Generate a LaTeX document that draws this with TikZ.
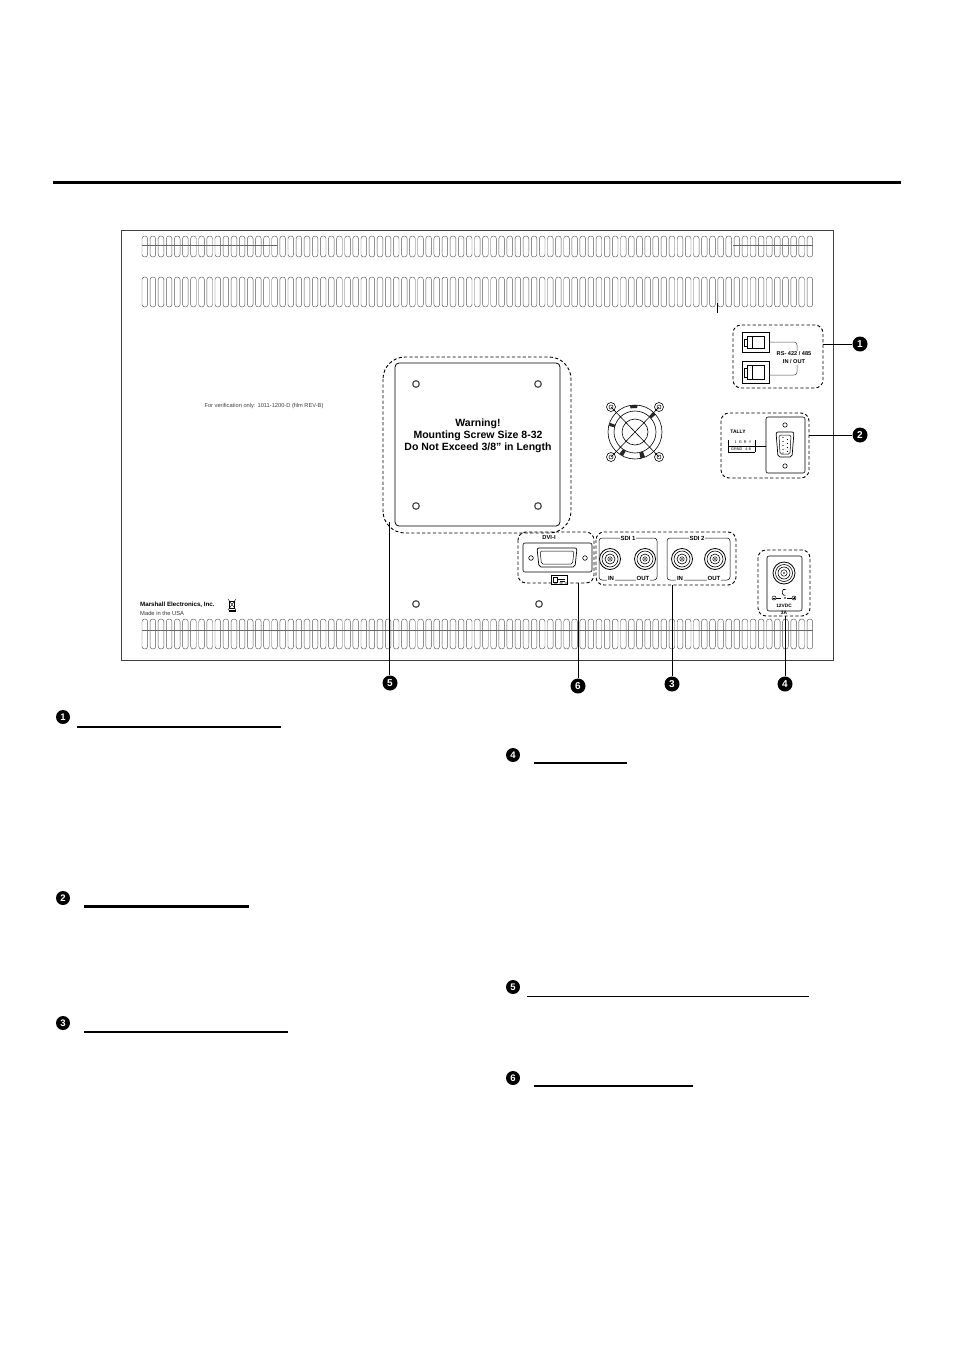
\documentclass[tikz,border=0pt]{standalone}
\usepackage{fontspec}
\setmainfont{Liberation Sans}
\begin{document}
\begin{tikzpicture}[x=1pt,y=-1pt,
  slot/.style={draw=black!65, line width=0.45pt, rounded corners=2.6pt},
  dashbox/.style={draw, line width=0.9pt, dash pattern=on 3.2pt off 2.2pt, rounded corners=8pt},
  numdot/.style={circle, fill=black, text=white, inner sep=0pt, minimum size=15pt, font=\bfseries\fontsize{10}{10}\selectfont},
  headdot/.style={circle, fill=black, text=white, inner sep=0pt, minimum size=14pt, font=\bfseries\fontsize{9.5}{10}\selectfont},
  leader/.style={line width=0.9pt},
  plate/.style={draw, line width=0.6pt, rounded corners=2pt},
  lbl/.style={font=\bfseries\fontsize{6}{6}\selectfont, inner sep=0.8pt, fill=white},
  hole/.style={draw=black!70, line width=1.2pt}]
\useasboundingbox (0,0) rectangle (954,1351);
\fill[white] (0,0) rectangle (954,1351);

% top rule
\draw[line width=3.5pt] (53,182.5) -- (901,182.5);

% monitor outline
\draw[line width=0.5pt, black!75] (121,230) rectangle (833,660);

% vent slots
\foreach \i in {0,...,82} {
  \pgfmathsetmacro\xx{142+8.11*\i}
  \draw[slot] (\xx,236) rectangle ++(5.6,21);
  \draw[slot] (\xx,277) rectangle ++(5.6,30);
  \draw[slot] (\xx,619) rectangle ++(5.6,30);
}
\draw[black!60, line width=0.4pt] (142,245) -- (277,245);
\draw[black!60, line width=0.4pt] (733,245) -- (813,245);
\draw[black!60, line width=0.4pt] (142,630) -- (813,630);
\draw[line width=0.6pt] (717,303) -- (717,313);

% verification text
\node[font=\fontsize{5.7}{6}\selectfont, text=black!75] (verif) at (264,406) {For verification only: 1011-1200-D (film REV-B)};

% maker
\node[anchor=west, font=\bfseries\fontsize{6.2}{7}\selectfont, inner sep=0pt] (maker) at (140,605) {Marshall Electronics, Inc.};
\node[anchor=west, font=\fontsize{5.8}{6}\selectfont, inner sep=0pt, text=black!80] (usa) at (140,613) {Made in the USA};
\draw[line width=0.5pt] (229.5,601) rectangle (234.5,608);
\draw[line width=0.4pt] (228,599) -- (236,610) (236,599) -- (228,610);
\draw[line width=1.2pt] (228.5,611) -- (235.5,611);

% mounting plate
\draw[line width=0.8pt, rounded corners=4pt] (395,363) rectangle (560,526);
\draw[dashbox, rounded corners=22pt] (383,357) rectangle (571,533);
\foreach \p in {(416,384),(538,384),(416,506),(538,506),(416,604),(539,604)}
  \draw[hole] \p circle (3.3);
\node[align=center, font=\bfseries\fontsize{10.5}{12.2}\selectfont] (warn) at (478,436)
  {Warning!\\Mounting Screw Size 8-32\\Do Not Exceed 3/8\char"22{} in Length};

% fan
\begin{scope}[shift={(635,432)}]
  \draw[line width=0.6pt] (0,0) circle (27);
  \draw[line width=0.6pt] (0,0) circle (21);
  \draw[line width=0.6pt] (0,0) circle (13);
  \draw[line width=0.6pt] (-24,-25) -- (24,25) (24,-25) -- (-24,25);
  \foreach \sx in {-1,1} \foreach \sy in {-1,1} {
    \draw[line width=0.6pt] (24*\sx,25*\sy) circle (4.5);
    \draw[line width=0.5pt] (24*\sx,25*\sy) circle (2);
  }
  \fill[black!85] (-26,-6) arc (193:200:27) -- (200:21) arc (200:193:21) -- cycle;
  \fill[black!85] (-5,-26.5) arc (259:275:27) -- (275:24) arc (275:259:24) -- cycle;
  \fill[black!85] (18,-20) arc (312:320:27) -- (320:21) arc (320:312:21) -- cycle;
  \fill[black!85] (-12,24) arc (116:125:27) -- (125:21) arc (125:116:21) -- cycle;
  \fill[black!85] (10,25) arc (68:78:27) -- (78:21) arc (78:68:21) -- cycle;
\end{scope}

% RS-422 box
\draw[dashbox] (733,325) rectangle (823,388);
\foreach \yy/\hh in {332/20,361/22} {
  \draw[line width=0.6pt] (742,\yy) rectangle ++(27,\hh);
  \draw[line width=0.5pt] (747,\yy+4) rectangle ++(17,\hh-8);
  \draw[line width=0.5pt] (744,\yy+7) rectangle ++(3,\hh-13);
  \draw[line width=0.4pt] (752,\yy+4) -- (752,\yy+\hh-4);
}
\draw[line width=0.5pt, black!70, rounded corners=3pt] (769,342) -- (797,342) -- (797,375) -- (769,375);
\node[lbl, align=center, font=\bfseries\fontsize{5.6}{8}\selectfont] (rs) at (794,358) {RS- 422 / 485\\IN / OUT};
\coordinate (c1) at (823,344);
\node[numdot] (n1) at (860,344) {1};
\draw[leader] (c1) -- (n1);

% Tally box
\draw[dashbox] (721,413) rectangle (809,478);
\draw[plate] (766,417) rectangle (805,473);
\draw[line width=0.6pt] (785,425) circle (2.2);
\draw[line width=0.6pt] (785,466) circle (2.2);
\draw[line width=0.7pt, rounded corners=2pt] (776,432) -- (794,432) -- (792,457) -- (778,457) -- cycle;
\draw[line width=0.5pt, rounded corners=1.5pt] (779,435) -- (791,435) -- (790,454) -- (780,454) -- cycle;
\foreach \yy in {437.5,441.5,445.5,449.5,453} \fill (783,\yy) circle (0.6);
\foreach \yy in {439.5,443.5,447.5,451.5} \fill (787.5,\yy) circle (0.6);
\node[font=\bfseries\fontsize{5}{5}\selectfont, inner sep=0pt] (tally) at (738,432) {TALLY};
\draw[line width=0.4pt] (728,440) -- (728,452) (728,446) -- (766,446) (728,452) -- (755,452) (755,440) -- (755,452);
\node[font=\fontsize{3.8}{4}\selectfont, inner sep=0pt] (tt1) at (743,442.5) {1\ \ G\ \ R\ \ Y};
\node[font=\fontsize{3.8}{4}\selectfont, inner sep=0pt] (tt2) at (741,449.5) {GRND\ \ \ 4-8};
\coordinate (c2) at (809,435);
\node[numdot] (n2) at (860,435) {2};
\draw[leader] (c2) -- (n2);

% DVI-I box
\draw[dashbox] (518,532) rectangle (594,583);
\draw[plate] (523,543) rectangle (592,572);
\node[font=\bfseries\fontsize{5.8}{6}\selectfont, inner sep=0pt] (dvi) at (549,537.5) {DVI-I};
\draw[line width=0.7pt, rounded corners=2pt] (537,548) -- (577,548) -- (575,567) -- (539,567) -- cycle;
\draw[line width=0.5pt, rounded corners=1.5pt] (540,551) -- (574,551) -- (572.5,564) -- (541.5,564) -- cycle;
\draw[line width=0.6pt] (531,558) circle (2.3);
\draw[line width=0.6pt] (585,558) circle (2.3);
\draw[line width=0.6pt] (551,575) rectangle (567,584);
\draw[line width=0.5pt] (553,577) rectangle (557,582);
\draw[line width=0.4pt] (558,579) -- (565,579) (560,581) -- (565,581);
\coordinate (c6) at (578,583);
\node[numdot] (n6) at (578,686) {6};
\draw[leader] (c6) -- (c6 |- n6.north);

% SDI box
\draw[dashbox] (596,532) rectangle (736,585);
\foreach \xa/\xb in {599/657,667/730} {
  \draw[line width=0.5pt, rounded corners=3pt] (\xa,538) rectangle (\xb,580);
}
\foreach \bx in {610,645,682,715} {
  \draw[line width=0.8pt, fill=white] (\bx,559) circle (10.5);
  \draw[line width=0.6pt] (\bx,559) circle (8);
  \draw[line width=0.6pt] (\bx,559) circle (5);
  \draw[line width=0.5pt] (\bx,559) circle (2.2);
  \fill (\bx,559) circle (0.8);
}
\node[lbl] (sdi1) at (628,538) {SDI 1};
\node[lbl] (sdi2) at (697,538) {SDI 2};
\node[lbl] (in1) at (611,578) {IN};
\node[lbl] (out1) at (643,578) {OUT};
\node[lbl] (in2) at (680,578) {IN};
\node[lbl] (out2) at (714,578) {OUT};
\coordinate (c3) at (672,585);
\node[numdot] (n3) at (672,684) {3};
\draw[leader] (c3) -- (c3 |- n3.north);

% power box
\draw[dashbox] (758,550) rectangle (810,616);
\draw[plate] (767,556) rectangle (802,611);
\draw[line width=0.8pt] (784,573) circle (11);
\draw[line width=0.6pt] (784,573) circle (8.5);
\draw[line width=0.6pt] (784,573) circle (6);
\draw[line width=0.5pt] (784,573) circle (3.2);
\fill (784,573) circle (0.8);
\draw[line width=0.5pt] (774,598) circle (2) (794,598) circle (2);
\draw[line width=0.5pt] (773,598) -- (775,598) (793,598) -- (795,598) (794,597) -- (794,599);
\draw[line width=0.5pt] (776,598) -- (781,598) (787,598) -- (792,598);
\draw[line width=0.6pt] (785.5,595) arc (60:300:2.2 and 3.2);
\fill (785,598) circle (0.9);
\node[font=\bfseries\fontsize{4.8}{5}\selectfont, inner sep=0.5pt] (v12) at (784,606) {12VDC};
\node[font=\bfseries\fontsize{4.8}{5}\selectfont, inner sep=0.5pt] (a3) at (784,613) {3A};
\coordinate (c4) at (785,616);
\node[numdot] (n4) at (785,684) {4};
\draw[leader] (c4) -- (c4 |- n4.north);

% label 5
\coordinate (c5) at (389,522);
\node[numdot] (n5) at (390,683) {5};
\draw[leader] (c5) -- (c5 |- n5.north);

% headings
\node[headdot] (h1) at (63,717) {1};
\draw[line width=1.2pt] (77,727) -- (281,727);
\node[headdot] (h2) at (63,898) {2};
\draw[line width=2.5pt] (84,906.5) -- (249,906.5);
\node[headdot] (h3) at (63,1023) {3};
\draw[line width=1.3pt] (84,1032) -- (288,1032);
\node[headdot] (h4) at (513,755) {4};
\draw[line width=2.5pt] (534,763) -- (627,763);
\node[headdot] (h5) at (513,987) {5};
\draw[line width=1.3pt] (527,996.5) -- (809,996.5);
\node[headdot] (h6) at (513,1078) {6};
\draw[line width=1.3pt] (534,1086) -- (693,1086);
\end{tikzpicture}
\end{document}
